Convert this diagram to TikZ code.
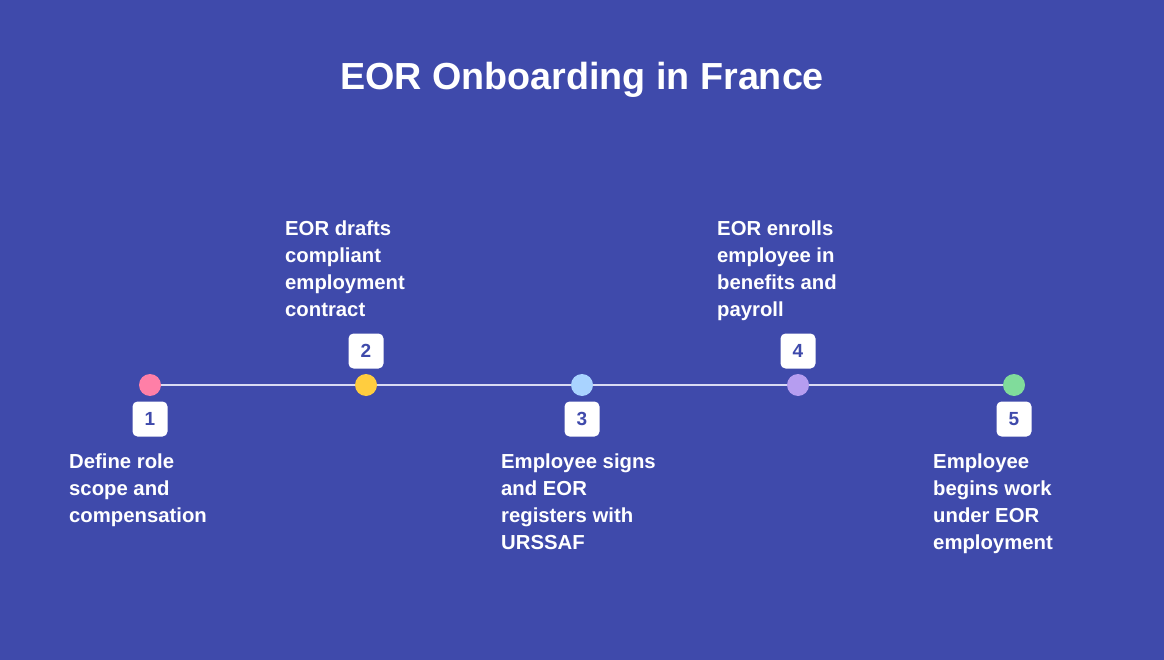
\documentclass[tikz,border=0pt]{standalone}
\usepackage{fontspec}
\setmainfont{Liberation Sans}
\definecolor{bg}{HTML}{3F4AAB}
\definecolor{lineC}{HTML}{D9DBF3}
\definecolor{c1}{HTML}{FF7FA7}
\definecolor{c2}{HTML}{FFCD3F}
\definecolor{c3}{HTML}{A9D3FF}
\definecolor{c4}{HTML}{B69DF0}
\definecolor{c5}{HTML}{80DC9B}
\begin{document}
\begin{tikzpicture}[x=1pt,y=-1pt,
  dot/.style={circle,minimum size=22pt,inner sep=0pt},
  badge/.style={fill=white,rounded corners=5pt,minimum width=35pt,minimum height=35pt,inner sep=0pt,text=bg,font=\bfseries\fontsize{19}{19}\selectfont},
  lbl/.style={text=white,align=left,inner sep=0pt,anchor=north west,font=\bfseries\fontsize{20.3}{27}\selectfont},
  title/.style={text=white,anchor=base,font=\bfseries\fontsize{37.7}{40}\selectfont}]
\fill[bg] (0,0) rectangle (1164,660);
\useasboundingbox (0,0) rectangle (1164,660);
\node[title] (t) at (582,90) {EOR Onboarding in France};
\coordinate (L) at (150,385);
\coordinate (R) at (1014,385);
\draw[lineC,line width=2pt] (L) -- (R);
\node[dot,fill=c1] (d1) at (150,385) {};
\node[dot,fill=c2] (d2) at (366,385) {};
\node[dot,fill=c3] (d3) at (582,385) {};
\node[dot,fill=c4] (d4) at (798,385) {};
\node[dot,fill=c5] (d5) at (1014,385) {};
\node[badge] (b1) at (150,419) {1};
\node[badge] (b2) at (366,351) {2};
\node[badge] (b3) at (582,419) {3};
\node[badge] (b4) at (798,351) {4};
\node[badge] (b5) at (1014,419) {5};
\node[lbl] (l1) at (69,453.4) {Define role\\scope and\\compensation};
\node[lbl] (l2) at (285,220.4) {EOR drafts\\compliant\\employment\\contract};
\node[lbl] (l3) at (501,453.4) {Employee signs\\and EOR\\registers with\\URSSAF};
\node[lbl] (l4) at (717,220.4) {EOR enrolls\\employee in\\benefits and\\payroll};
\node[lbl] (l5) at (933,453.4) {Employee\\begins work\\under EOR\\employment};
\end{tikzpicture}
\end{document}
